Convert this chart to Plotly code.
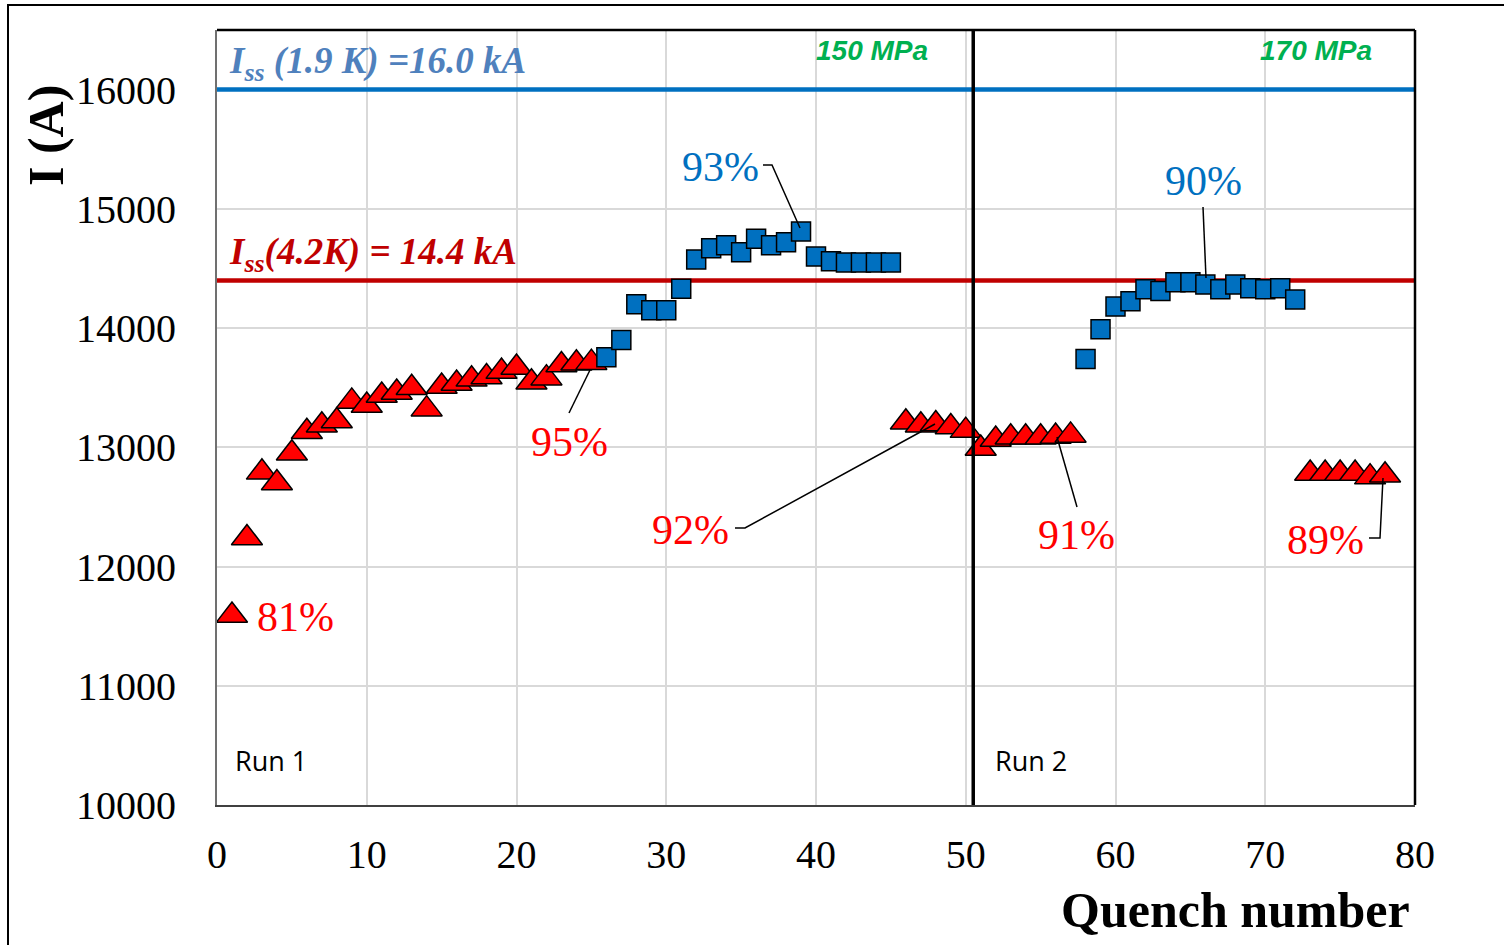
import plotly.graph_objects as go

# ---------------- data ----------------
run1_tri_x = list(range(1, 26))
run1_tri_y = [11590, 12240, 12790, 12700, 12950, 13130, 13185, 13220, 13385, 13350,
              13435, 13460, 13500, 13320, 13510, 13535, 13570, 13590, 13635, 13670,
              13545, 13580, 13690, 13705, 13710]
run1_sq_x = list(range(26, 46))
run1_sq_y = [13755, 13900, 14200, 14150, 14150, 14330, 14575, 14670, 14695, 14635,
             14750, 14695, 14720, 14810, 14600, 14560, 14550, 14550, 14550, 14550]
run1b_tri_x = [46, 47, 48, 49, 50]
run1b_tri_y = [13210, 13185, 13195, 13170, 13140]
run2_tri_x = [51, 52, 53, 54, 55, 56, 57]
run2_tri_y = [12990, 13065, 13085, 13085, 13085, 13090, 13100]
run2_sq_x = list(range(58, 73))
run2_sq_y = [13740, 13990, 14180, 14225, 14325, 14310, 14385, 14385, 14365, 14325,
             14365, 14335, 14325, 14335, 14240]
run2b_tri_x = [73, 74, 75, 76, 77, 78]
run2b_tri_y = [12780, 12780, 12780, 12780, 12750, 12765]

iss_19K = 16000
iss_42K = 14400
run_split = 50.5
x_range = [0, 80]
y_range = [10000, 16500]
y_ticks = [10000, 11000, 12000, 13000, 14000, 15000, 16000]

# ---------------- geometry helpers (layout only, page pixels) ----------------
L, R, T, B = 217, 1415, 30, 805
W, H = 1504, 945
def px2x(px):
    return x_range[0] + (px - L) / (R - L) * (x_range[1] - x_range[0])
def py2y(py):
    return y_range[0] + (B - py) / (B - T) * (y_range[1] - y_range[0])
def pxp(px):
    return (px - L) / (R - L)
def pyp(py):
    return (B - py) / (B - T)

SERIF = "Liberation Serif"
RED = "#FF0000"
BLUE = "#0070C0"

fig = go.Figure()

# reference lines
fig.add_trace(go.Scatter(x=x_range, y=[iss_19K, iss_19K], mode="lines",
                         line=dict(color="#0070C0", width=4.5), hoverinfo="skip"))
fig.add_trace(go.Scatter(x=x_range, y=[iss_42K, iss_42K], mode="lines",
                         line=dict(color="#C00000", width=4.5), hoverinfo="skip"))

tri = dict(symbol="triangle-up", size=27, color=RED, line=dict(color="black", width=1.5))
sq = dict(symbol="square", size=19, color=BLUE, line=dict(color="black", width=1.5))

for xs, ys in [(run1_tri_x, run1_tri_y), (run1b_tri_x, run1b_tri_y),
               (run2_tri_x, run2_tri_y), (run2b_tri_x, run2b_tri_y)]:
    fig.add_trace(go.Scatter(x=xs, y=ys, mode="markers", marker=tri))
for xs, ys in [(run1_sq_x, run1_sq_y), (run2_sq_x, run2_sq_y)]:
    fig.add_trace(go.Scatter(x=xs, y=ys, mode="markers", marker=sq))

shapes = []
# run separator
shapes.append(dict(type="line", xref="x", yref="y", x0=run_split, x1=run_split,
                   y0=y_range[0], y1=y_range[1], line=dict(color="black", width=3.5),
                   layer="above"))
# top and right frame
shapes.append(dict(type="line", xref="paper", yref="paper", x0=0, x1=1, y0=1, y1=1,
                   line=dict(color="black", width=2.5)))
shapes.append(dict(type="line", xref="paper", yref="paper", x0=1, x1=1, y0=0, y1=1,
                   line=dict(color="black", width=2.5)))
# outer border
shapes.append(dict(type="line", xref="paper", yref="paper", x0=pxp(8), x1=pxp(8),
                   y0=pyp(5), y1=pyp(950), line=dict(color="black", width=2)))
shapes.append(dict(type="line", xref="paper", yref="paper", x0=pxp(7), x1=pxp(1510),
                   y0=pyp(5), y1=pyp(5), line=dict(color="black", width=2)))

# leader lines (pixel-located)
def leader(pts):
    path = "M " + " L ".join(f"{px2x(a)},{py2y(b)}" for a, b in pts)
    shapes.append(dict(type="path", xref="x", yref="y", path=path,
                       line=dict(color="black", width=1.5), layer="above"))

leader([(569, 413), (590, 370)])
leader([(763, 165), (772, 165), (800, 228)])
leader([(1203, 207), (1206, 278)])
leader([(735, 528), (745, 528), (935, 424)])
leader([(1057, 437), (1077, 507)])
leader([(1369, 538), (1380, 538), (1383, 478)])

ann = []
def label(text, px, py, color, size, family=SERIF, xanchor="center"):
    ann.append(dict(text=text, x=px2x(px), y=py2y(py), xref="x", yref="y",
                    showarrow=False, xanchor=xanchor, yanchor="middle",
                    font=dict(family=family, size=size, color=color)))

label("<b><i>I<sub>ss</sub> (1.9 K) =16.0 kA</i></b>", 227, 63, "#4F81BD", 37, xanchor="left")
label("<b><i>I<sub>ss</sub>(4.2K) = 14.4 kA</i></b>", 227, 254, "#C00000", 37, xanchor="left")
label("<b><i>150 MPa</i></b>", 872, 50, "#00B050", 28, family="Liberation Sans")
label("<b><i>170 MPa</i></b>", 1316, 50, "#00B050", 28, family="Liberation Sans")
label("Run 1", 233, 760, "black", 27, family="Open Sans", xanchor="left")
label("Run 2", 993, 760, "black", 27, family="Open Sans", xanchor="left")
label("81%", 295, 617, RED, 42)
label("95%", 569, 442, RED, 42)
label("93%", 720, 167, BLUE, 42)
label("90%", 1203, 181, BLUE, 42)
label("92%", 690, 530, RED, 42)
label("91%", 1076, 535, RED, 42)
label("89%", 1325, 540, RED, 42)

# axis titles
ann.append(dict(text="<b>I (A)</b>", x=pxp(46), y=pyp(135), xref="paper", yref="paper",
                showarrow=False, textangle=-90, xanchor="center", yanchor="middle",
                font=dict(family=SERIF, size=50, color="black")))
ann.append(dict(text="<b>Quench number</b>", x=pxp(1235), y=pyp(910), xref="paper",
                yref="paper", showarrow=False, xanchor="center", yanchor="middle",
                font=dict(family=SERIF, size=50, color="black")))

fig.update_layout(
    width=W, height=H,
    margin=dict(l=L, r=W - R, t=T, b=H - B, pad=0),
    plot_bgcolor="white", paper_bgcolor="white",
    showlegend=False,
    shapes=shapes, annotations=ann,
    xaxis=dict(range=x_range, dtick=10, tick0=0, showgrid=True, gridcolor="#D9D9D9",
               gridwidth=2, zeroline=False, showline=True, linecolor="#404040",
               linewidth=2, ticks="", ticklabelstandoff=13,
               tickfont=dict(family=SERIF, size=40, color="black")),
    yaxis=dict(range=y_range, tickvals=y_ticks,
               tickformat="d", showgrid=True, gridcolor="#D9D9D9", gridwidth=2,
               zeroline=False, showline=True, linecolor="#707070", linewidth=2,
               ticks="", ticklabelstandoff=31,
               tickfont=dict(family=SERIF, size=40, color="black")),
)

fig.write_html("out.html", config={"displayModeBar": False},
               post_script="document.body.style.margin='0px';document.body.style.overflow='hidden';")
